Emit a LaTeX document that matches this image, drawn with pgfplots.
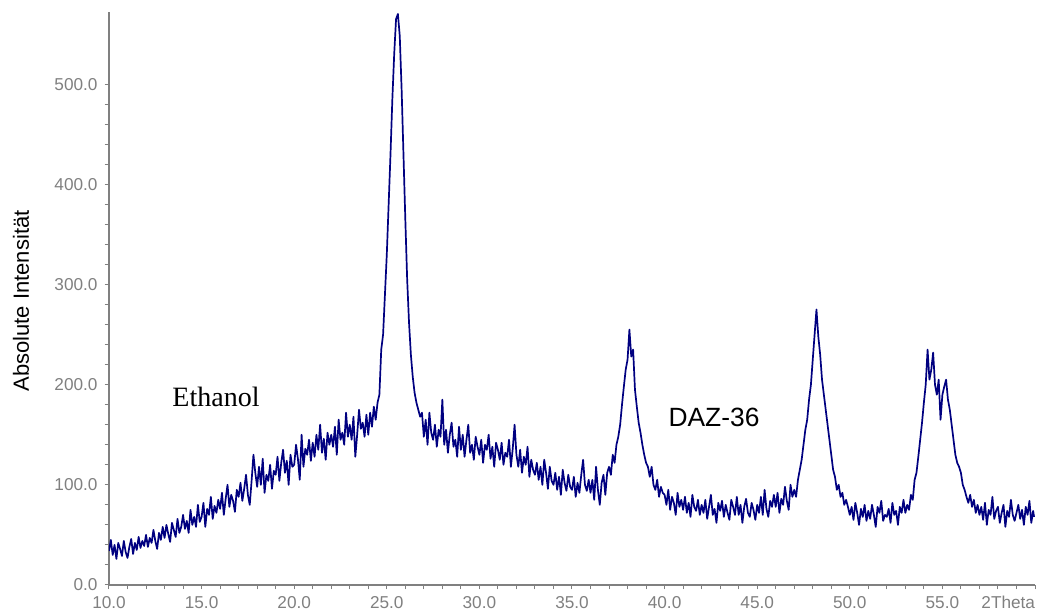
\documentclass[border=0pt]{standalone}
\usepackage{fontspec}
\setmainfont{Liberation Sans}
\newfontfamily\serifx{Liberation Serif}
\usepackage{pgfplots}
\pgfplotsset{compat=1.18}
\definecolor{navy}{RGB}{0,0,128}
\definecolor{axgray}{RGB}{128,128,128}
\begin{document}
\begin{tikzpicture}
\path[use as bounding box] (-54.5pt,-12.5pt) rectangle (465.5pt,292.5pt);
\begin{axis}[
    scale only axis,
    width=463pt, height=286.5pt,
    xmin=10, xmax=60, ymin=0, ymax=572,
    axis x line*=bottom, axis y line*=left,
    axis line style={axgray, line width=0.6pt},
    tick style={axgray, line width=0.5pt},
    tick align=outside,
    major tick length=2.2pt, minor tick length=2.2pt,
    xtick={10,15,...,60},
    xticklabels={10.0,15.0,20.0,25.0,30.0,35.0,40.0,45.0,50.0,55.0,\makebox[0pt][r]{2Theta}},
    ytick={0,100,...,500},
    yticklabels={0.0,100.0,200.0,300.0,400.0,500.0},
    minor x tick num=4, minor y tick num=4,
    ticklabel style={font=\fontsize{8.6}{10}\selectfont, text=axgray},
    clip=true,
]
\addplot[navy, line width=0.85pt, line join=round] coordinates {
(10.0,34) (10.1,45) (10.2,30) (10.3,40) (10.4,26) (10.5,42) (10.6,36) (10.7,29) (10.8,44) (10.9,33)
(11.0,27) (11.1,38) (11.2,46) (11.3,31) (11.4,42) (11.5,35) (11.6,48) (11.7,37) (11.8,44) (11.9,39)
(12.0,50) (12.1,38) (12.2,47) (12.3,42) (12.4,55) (12.5,44) (12.6,36) (12.7,52) (12.8,45) (12.9,58)
(13.0,47) (13.1,60) (13.2,51) (13.3,43) (13.4,62) (13.5,55) (13.6,48) (13.7,66) (13.8,52) (13.9,58)
(14.0,70) (14.1,56) (14.2,64) (14.3,52) (14.4,75) (14.5,60) (14.6,68) (14.7,58) (14.8,80) (14.9,63)
(15.0,68) (15.1,82) (15.2,58) (15.3,76) (15.4,70) (15.5,88) (15.6,66) (15.7,79) (15.8,72) (15.9,85)
(16.0,76) (16.1,92) (16.2,70) (16.3,86) (16.4,100) (16.5,78) (16.6,90) (16.7,84) (16.8,73) (16.9,95)
(17.0,88) (17.1,102) (17.2,84) (17.3,96) (17.4,110) (17.5,90) (17.6,80) (17.7,104) (17.8,130) (17.9,112)
(18.0,98) (18.1,118) (18.2,100) (18.3,126) (18.4,92) (18.5,110) (18.6,104) (18.7,120) (18.8,96) (18.9,114)
(19.0,110) (19.1,128) (19.2,104) (19.3,122) (19.4,135) (19.5,112) (19.6,124) (19.7,100) (19.8,130) (19.9,118)
(20.0,120) (20.1,140) (20.2,126) (20.3,105) (20.4,150) (20.5,118) (20.6,136) (20.7,130) (20.8,145) (20.9,124)
(21.0,142) (21.1,128) (21.2,150) (21.3,135) (21.4,160) (21.5,132) (21.6,146) (21.7,125) (21.8,152) (21.9,140)
(22.0,150) (22.1,138) (22.2,158) (22.3,130) (22.4,165) (22.5,145) (22.6,152) (22.7,140) (22.8,172) (22.9,148)
(23.0,160) (23.1,145) (23.2,168) (23.3,128) (23.4,150) (23.5,175) (23.6,156) (23.7,162) (23.8,148) (23.9,170)
(24.0,150) (24.1,172) (24.2,158) (24.3,178) (24.4,165) (24.5,182) (24.6,190) (24.7,235) (24.8,250) (24.9,290)
(25.0,330) (25.1,380) (25.2,430) (25.3,485) (25.4,530) (25.5,565) (25.6,570) (25.7,548) (25.8,495) (25.9,430)
(26.0,365) (26.1,305) (26.2,262) (26.3,230) (26.4,208) (26.5,192) (26.6,182) (26.7,175) (26.8,168) (26.9,172)
(27.0,148) (27.1,165) (27.2,140) (27.3,172) (27.4,152) (27.5,145) (27.6,160) (27.7,138) (27.8,155) (27.9,148)
(28.0,185) (28.1,140) (28.2,155) (28.3,132) (28.4,150) (28.5,162) (28.6,138) (28.7,145) (28.8,128) (28.9,158)
(29.0,135) (29.1,150) (29.2,128) (29.3,145) (29.4,160) (29.5,132) (29.6,140) (29.7,125) (29.8,148) (29.9,138)
(30.0,130) (30.1,145) (30.2,122) (30.3,140) (30.4,135) (30.5,150) (30.6,126) (30.7,138) (30.8,118) (30.9,142)
(31.0,135) (31.1,125) (31.2,142) (31.3,120) (31.4,132) (31.5,128) (31.6,145) (31.7,118) (31.8,136) (31.9,160)
(32.0,130) (32.1,118) (32.2,135) (32.3,112) (32.4,128) (32.5,120) (32.6,138) (32.7,108) (32.8,125) (32.9,115)
(33.0,110) (33.1,122) (33.2,105) (33.3,118) (33.4,100) (33.5,125) (33.6,112) (33.7,96) (33.8,118) (33.9,104)
(34.0,100) (34.1,112) (34.2,95) (34.3,108) (34.4,90) (34.5,115) (34.6,102) (34.7,94) (34.8,110) (34.9,98)
(35.0,95) (35.1,108) (35.2,88) (35.3,102) (35.4,92) (35.5,110) (35.6,125) (35.7,100) (35.8,94) (35.9,105)
(36.0,92) (36.1,105) (36.2,85) (36.3,118) (36.4,95) (36.5,80) (36.6,102) (36.7,110) (36.8,90) (36.9,112)
(37.0,118) (37.1,110) (37.2,130) (37.3,122) (37.4,140) (37.5,148) (37.6,160) (37.7,180) (37.8,198) (37.9,215)
(38.0,225) (38.1,255) (38.2,228) (38.3,235) (38.4,195) (38.5,178) (38.6,162) (38.7,152) (38.8,140) (38.9,130)
(39.0,122) (39.1,118) (39.2,108) (39.3,118) (39.4,100) (39.5,95) (39.6,105) (39.7,88) (39.8,98) (39.9,92)
(40.0,90) (40.1,80) (40.2,95) (40.3,75) (40.4,88) (40.5,82) (40.6,70) (40.7,92) (40.8,78) (40.9,85)
(41.0,75) (41.1,88) (41.2,72) (41.3,82) (41.4,68) (41.5,90) (41.6,78) (41.7,74) (41.8,85) (41.9,70)
(42.0,80) (42.1,72) (42.2,85) (42.3,66) (42.4,78) (42.5,90) (42.6,70) (42.7,76) (42.8,62) (42.9,82)
(43.0,74) (43.1,84) (43.2,68) (43.3,80) (43.4,72) (43.5,65) (43.6,85) (43.7,78) (43.8,70) (43.9,88)
(44.0,70) (44.1,80) (44.2,62) (44.3,78) (44.4,86) (44.5,72) (44.6,68) (44.7,82) (44.8,75) (44.9,65)
(45.0,80) (45.1,72) (45.2,88) (45.3,70) (45.4,95) (45.5,76) (45.6,68) (45.7,84) (45.8,78) (45.9,90)
(46.0,78) (46.1,92) (46.2,72) (46.3,86) (46.4,80) (46.5,98) (46.6,84) (46.7,75) (46.8,100) (46.9,88)
(47.0,95) (47.1,88) (47.2,105) (47.3,115) (47.4,125) (47.5,140) (47.6,155) (47.7,165) (47.8,185) (47.9,200)
(48.0,225) (48.1,250) (48.2,275) (48.3,248) (48.4,230) (48.5,205) (48.6,190) (48.7,175) (48.8,160) (48.9,145)
(49.0,130) (49.1,115) (49.2,108) (49.3,95) (49.4,100) (49.5,88) (49.6,92) (49.7,80) (49.8,85) (49.9,78)
(50.0,70) (50.1,78) (50.2,65) (50.3,82) (50.4,72) (50.5,60) (50.6,76) (50.7,68) (50.8,80) (50.9,64)
(51.0,74) (51.1,66) (51.2,80) (51.3,70) (51.4,58) (51.5,78) (51.6,72) (51.7,84) (51.8,64) (51.9,70)
(52.0,68) (52.1,76) (52.2,62) (52.3,82) (52.4,70) (52.5,74) (52.6,60) (52.7,78) (52.8,72) (52.9,85)
(53.0,72) (53.1,80) (53.2,75) (53.3,90) (53.4,85) (53.5,105) (53.6,112) (53.7,128) (53.8,145) (53.9,162)
(54.0,182) (54.1,200) (54.2,235) (54.3,205) (54.4,215) (54.5,232) (54.6,200) (54.7,190) (54.8,205) (54.9,165)
(55.0,190) (55.1,198) (55.2,205) (55.3,185) (55.4,175) (55.5,160) (55.6,145) (55.7,130) (55.8,122) (55.9,118)
(56.0,112) (56.1,100) (56.2,95) (56.3,88) (56.4,82) (56.5,90) (56.6,78) (56.7,85) (56.8,72) (56.9,80)
(57.0,70) (57.1,78) (57.2,65) (57.3,82) (57.4,60) (57.5,75) (57.6,70) (57.7,88) (57.8,66) (57.9,74)
(58.0,78) (58.1,62) (58.2,72) (58.3,80) (58.4,58) (58.5,74) (58.6,68) (58.7,85) (58.8,70) (58.9,64)
(59.0,72) (59.1,80) (59.2,66) (59.3,75) (59.4,60) (59.5,78) (59.6,70) (59.7,84) (59.8,62) (59.9,74)
(59.95,68)
};
\node[font=\serifx\fontsize{14}{14}\selectfont] at (axis cs:15.78,188) {Ethanol};
\node[font=\fontsize{13.2}{14}\selectfont] at (axis cs:42.67,167) {DAZ-36};
\end{axis}
\node[rotate=90, font=\fontsize{11}{12}\selectfont] at (-44pt,142pt) {Absolute Intensität};
\end{tikzpicture}
\end{document}
